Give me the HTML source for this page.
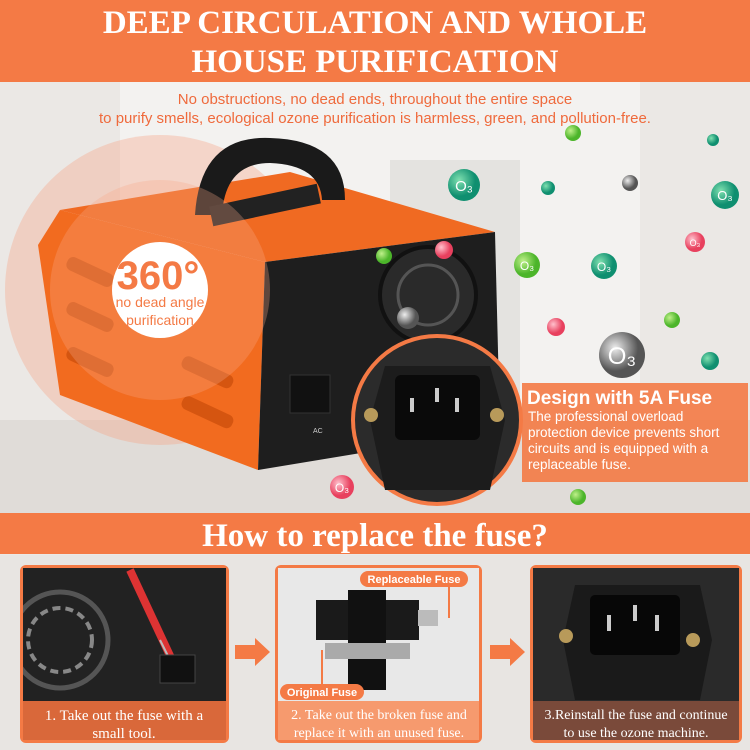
<!DOCTYPE html>
<html><head><meta charset="utf-8"><style>
html,body{margin:0;padding:0;width:750px;height:750px;overflow:hidden;background:#eee}
svg{display:block}
</style></head><body>
<svg width="750" height="750" viewBox="0 0 750 750" xmlns="http://www.w3.org/2000/svg">
<defs>
<radialGradient id="g1" cx="0.35" cy="0.35"><stop offset="0" stop-color="#7fe0b0"/><stop offset="1" stop-color="#0f8f70"/></radialGradient>
<radialGradient id="g2" cx="0.35" cy="0.35"><stop offset="0" stop-color="#bff08a"/><stop offset="1" stop-color="#4cb52a"/></radialGradient>
<radialGradient id="g3" cx="0.35" cy="0.35"><stop offset="0" stop-color="#ffc0cc"/><stop offset="1" stop-color="#e8405e"/></radialGradient>
<radialGradient id="g4" cx="0.35" cy="0.35"><stop offset="0" stop-color="#eee"/><stop offset="1" stop-color="#555"/></radialGradient>
<clipPath id="c1"><rect x="23" y="568" width="203" height="133"/></clipPath>
</defs>
<!-- background -->
<rect x="0" y="0" width="750" height="750" fill="#ebe8e5"/>
<rect x="120" y="80" width="520" height="330" fill="#f3f2f0"/>
<rect x="390" y="160" width="130" height="260" fill="#e4e3e0"/>
<rect x="0" y="420" width="750" height="95" fill="#e0dcd8"/>
<rect x="0" y="555" width="750" height="195" fill="#e8e5e2"/>
<!-- top banner -->
<rect x="0" y="0" width="750" height="82" fill="#f47a45"/>
<text x="375" y="33" text-anchor="middle" font-family="Liberation Serif,serif" font-weight="bold" font-size="33" fill="#fff">DEEP CIRCULATION AND WHOLE</text>
<text x="375" y="72" text-anchor="middle" font-family="Liberation Serif,serif" font-weight="bold" font-size="33" fill="#fff">HOUSE PURIFICATION</text>
<text x="375" y="104" text-anchor="middle" font-family="Liberation Sans,sans-serif" font-size="15" fill="#ef6a3c">No obstructions, no dead ends, throughout the entire space</text>
<text x="375" y="123" text-anchor="middle" font-family="Liberation Sans,sans-serif" font-size="15" fill="#ef6a3c">to purify smells, ecological ozone purification is harmless, green, and pollution-free.</text>
<!-- device -->
<circle cx="160" cy="290" r="155" fill="#f6a080" opacity="0.35"/>
<polygon points="60,210 290,172 495,232 265,262" fill="#f06a22"/>
<polygon points="38,245 60,210 265,262 258,470 60,395" fill="#f26b1f"/>
<polygon points="265,262 495,232 500,430 258,470" fill="#1e1e1e"/>
<g fill="#d55510">
<rect x="65" y="265" width="50" height="14" rx="6" transform="rotate(25 90 272)"/>
<rect x="65" y="310" width="50" height="14" rx="6" transform="rotate(25 90 317)"/>
<rect x="65" y="355" width="50" height="14" rx="6" transform="rotate(25 90 362)"/>
<rect x="180" y="365" width="55" height="14" rx="6" transform="rotate(25 207 372)"/>
<rect x="180" y="405" width="55" height="14" rx="6" transform="rotate(25 207 412)"/>
</g>
<circle cx="428" cy="295" r="48" fill="#2a2a2a" stroke="#111" stroke-width="4"/>
<circle cx="428" cy="295" r="30" fill="none" stroke="#555" stroke-width="3"/>
<rect x="290" y="375" width="40" height="38" fill="#111" stroke="#333"/>
<text x="313" y="433" font-family="Liberation Sans,sans-serif" font-size="7" fill="#ccc">AC</text>
<path d="M195 215 Q200 135 270 138 Q345 140 345 200 L322 200 Q320 165 270 163 Q225 163 222 215 Z" fill="#1a1a1a"/>
<rect x="210" y="195" width="110" height="20" fill="#222" transform="rotate(-12 265 205)"/>
<circle cx="160" cy="290" r="110" fill="#f8a888" opacity="0.3"/>
<circle cx="160" cy="290" r="48" fill="#fff"/>
<text x="158" y="289" text-anchor="middle" font-family="Liberation Sans,sans-serif" font-weight="bold" font-size="40" fill="#f47a45">360°</text>
<text x="160" y="307" text-anchor="middle" font-family="Liberation Sans,sans-serif" font-size="14" fill="#f47a45">no dead angle</text>
<text x="160" y="325" text-anchor="middle" font-family="Liberation Sans,sans-serif" font-size="14" fill="#f47a45">purification</text>
<!-- zoom circle -->
<circle cx="437" cy="420" r="84" fill="#2b2b2b" stroke="#f47a45" stroke-width="4"/>
<polygon points="385,366 490,366 505,420 490,490 385,490 370,420" fill="#1c1c1c"/>
<rect x="395" y="375" width="85" height="65" rx="6" fill="#0a0a0a"/>
<rect x="410" y="398" width="4" height="14" fill="#ccc"/><rect x="435" y="388" width="4" height="14" fill="#ccc"/><rect x="455" y="398" width="4" height="14" fill="#ccc"/>
<circle cx="371" cy="415" r="7" fill="#b89a5a"/><circle cx="497" cy="415" r="7" fill="#b89a5a"/>
<!-- info box -->
<rect x="522" y="383" width="226" height="99" fill="#f47a45" opacity="0.9"/>
<text x="527" y="404" font-family="Liberation Sans,sans-serif" font-weight="bold" font-size="19" fill="#fff">Design with 5A Fuse</text>
<g font-family="Liberation Sans,sans-serif" font-size="13.5" fill="#fff">
<text x="528" y="421">The professional overload</text>
<text x="528" y="437">protection device prevents short</text>
<text x="528" y="453">circuits and is equipped with a</text>
<text x="528" y="469">replaceable fuse.</text>
</g>
<!-- ozone bubbles -->
<g font-family="Liberation Sans,sans-serif" fill="#fff" text-anchor="middle">
<circle cx="464" cy="185" r="16" fill="url(#g1)"/><text x="464" y="191" font-size="15">O₃</text>
<circle cx="725" cy="195" r="14" fill="url(#g1)"/><text x="725" y="200" font-size="13">O₃</text>
<circle cx="604" cy="266" r="13" fill="url(#g1)"/><text x="604" y="271" font-size="12">O₃</text>
<circle cx="527" cy="265" r="13" fill="url(#g2)"/><text x="527" y="270" font-size="12">O₃</text>
<circle cx="695" cy="242" r="10" fill="url(#g3)"/><text x="695" y="246" font-size="9">O₃</text>
<circle cx="630" cy="183" r="8" fill="url(#g4)"/>
<circle cx="548" cy="188" r="7" fill="url(#g1)"/>
<circle cx="573" cy="133" r="8" fill="url(#g2)"/>
<circle cx="713" cy="140" r="6" fill="url(#g1)"/>
<circle cx="384" cy="256" r="8" fill="url(#g2)"/>
<circle cx="444" cy="250" r="9" fill="url(#g3)"/>
<circle cx="408" cy="318" r="11" fill="url(#g4)"/>
<circle cx="556" cy="327" r="9" fill="url(#g3)"/>
<circle cx="672" cy="320" r="8" fill="url(#g2)"/>
<circle cx="622" cy="355" r="23" fill="url(#g4)"/><text x="622" y="364" font-size="24">O₃</text>
<circle cx="710" cy="361" r="9" fill="url(#g1)"/>
<circle cx="342" cy="487" r="12" fill="url(#g3)"/><text x="342" y="492" font-size="12">O₃</text>
<circle cx="578" cy="497" r="8" fill="url(#g2)"/>
</g>
<!-- how to band -->
<rect x="0" y="513" width="750" height="41" fill="#f47a45"/>
<text x="375" y="546" text-anchor="middle" font-family="Liberation Serif,serif" font-weight="bold" font-size="33" fill="#fff">How to replace the fuse?</text>
<!-- panels -->
<rect x="20" y="565" width="209" height="178" rx="6" fill="#f47a45"/>
<rect x="23" y="568" width="203" height="133" fill="#222"/>
<g clip-path="url(#c1)">
<circle cx="60" cy="640" r="48" fill="none" stroke="#555" stroke-width="5"/>
<circle cx="60" cy="640" r="32" fill="none" stroke="#888" stroke-width="4" stroke-dasharray="8 5"/>
<line x1="130" y1="570" x2="172" y2="660" stroke="#d33" stroke-width="8"/>
</g>
<line x1="160" y1="640" x2="180" y2="680" stroke="#bbb" stroke-width="2"/>
<rect x="160" y="655" width="35" height="28" fill="#111" stroke="#444"/>
<rect x="23" y="701" width="203" height="39" fill="#d9683a"/>
<g font-family="Liberation Serif,serif" font-size="15" fill="#fff" text-anchor="middle">
<text x="124" y="720">1. Take out the fuse with a</text><text x="124" y="738">small tool.</text>
</g>
<polygon points="235,645 255,645 255,638 270,652 255,666 255,659 235,659" fill="#f47a45"/>
<rect x="275" y="565" width="207" height="178" rx="6" fill="#f47a45"/>
<rect x="278" y="568" width="201" height="133" fill="#e8e8e8"/>
<rect x="316" y="600" width="103" height="40" fill="#1a1a1a"/>
<rect x="348" y="590" width="38" height="100" fill="#111"/>
<rect x="418" y="610" width="20" height="16" fill="#bbb"/>
<rect x="325" y="643" width="85" height="16" fill="#aaa"/>
<rect x="360" y="571" width="108" height="16" rx="8" fill="#f47a45"/>
<text x="414" y="583" text-anchor="middle" font-family="Liberation Sans,sans-serif" font-weight="bold" font-size="11" fill="#fff">Replaceable Fuse</text>
<rect x="280" y="684" width="84" height="16" rx="8" fill="#f47a45"/>
<text x="322" y="696" text-anchor="middle" font-family="Liberation Sans,sans-serif" font-weight="bold" font-size="11" fill="#fff">Original Fuse</text>
<line x1="322" y1="650" x2="322" y2="684" stroke="#f47a45" stroke-width="2"/>
<line x1="449" y1="587" x2="449" y2="618" stroke="#f47a45" stroke-width="2"/>
<rect x="278" y="701" width="201" height="39" fill="#f69a6e"/>
<g font-family="Liberation Serif,serif" font-size="14" fill="#fff" text-anchor="middle">
<text x="379" y="719">2. Take out the broken fuse and</text><text x="379" y="737">replace it with an unused fuse.</text>
</g>
<polygon points="490,645 510,645 510,638 525,652 510,666 510,659 490,659" fill="#f47a45"/>
<rect x="530" y="565" width="212" height="178" rx="6" fill="#f47a45"/>
<rect x="533" y="568" width="206" height="133" fill="#2a2a2a"/>
<polygon points="575,585 700,585 712,640 700,700 575,700 563,640" fill="#1a1a1a"/>
<rect x="590" y="595" width="90" height="60" rx="5" fill="#070707"/>
<rect x="607" y="615" width="4" height="16" fill="#ccc"/><rect x="633" y="605" width="4" height="16" fill="#ccc"/><rect x="655" y="615" width="4" height="16" fill="#ccc"/>
<circle cx="566" cy="636" r="7" fill="#b89a5a"/><circle cx="693" cy="640" r="7" fill="#b89a5a"/>
<rect x="533" y="701" width="206" height="39" fill="#7a4a3a"/>
<g font-family="Liberation Serif,serif" font-size="14" fill="#fff" text-anchor="middle">
<text x="636" y="719">3.Reinstall the fuse and continue</text><text x="636" y="737">to use the ozone machine.</text>
</g>
</svg>
</body></html>
